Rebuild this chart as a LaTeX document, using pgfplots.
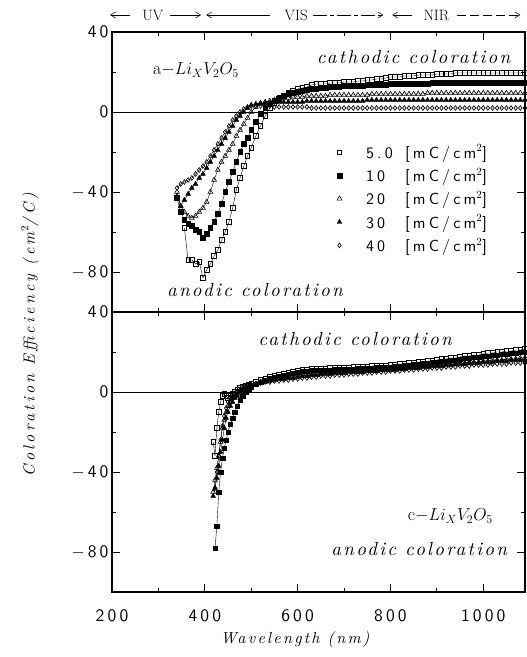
\documentclass[border=0pt]{standalone}
\usepackage{fontspec}
\usepackage{pgfplots}
\pgfplotsset{compat=1.18}
\usepackage{pgfplotstable}
\usetikzlibrary{arrows.meta}

\newfontfamily\labfont{lmroman10-italic.otf}[LetterSpace=12]
\newfontfamily\xlabfont{lmroman10-italic.otf}[LetterSpace=14]
\newfontfamily\ylabfont{lmroman10-italic.otf}[LetterSpace=20]
\newfontfamily\tickfont{lmsans10-regular.otf}[LetterSpace=18]
\newfontfamily\legfont{lmsans10-regular.otf}[LetterSpace=20]
\newcommand{\lab}[1]{{\fontsize{19}{22}\selectfont\labfont #1}}
\newcommand{\tlab}{\fontsize{17.5}{20}\selectfont\tickfont}
\newcommand{\leg}[1]{\makebox[39pt][l]{#1}[mC/cm$^{2}$]}

\pgfplotstableread{
x s5 s10 s20 s30 s40
340 nan -43 -40 -42 -38
348 nan -50 -47 -47 -36
356 -58 -54 -50 -44 -35
364 -74 -56 -52 -41 -34
372 -74 -57 -53 -38 -33
380 -76 -59 -52 -36 -31
388 -75 -60 -50 -33 -29
396 -83 -63 -48 -31 -27
404 -79 -61 -45 -28 -25
412 -76 -58 -40 -25 -22
420 -72 -55 -34 -22 -19
428 -69 -51 -29 -19 -16
436 -64 -46 -25 -16 -13
444 -60 -40 -22 -13 -10
452 -55 -35 -19 -10 -7
460 -48 -30 -16 -7 -4
468 -39 -25 -12 -4 -2
476 -33 -20 -9 -2 0
484 -27 -16 -6 0 1.5
492 -22 -13 -3 2 2.5
500 -18 -9 0 3.5 3
510 -12 -5 2.5 4 3
520 -7 -1 4 4.5 3
530 -2 2 5 4.5 3
540 2 4 5.5 4.5 3
550 4.5 5.5 6 5 2.5
560 6.5 7 6.5 5 2.5
570 8 8 7 5 2.5
580 9.5 9 7 5 2.5
590 10.5 9.5 7.5 5 2.5
600 11.5 10 7.5 5 2.5
610 12 10.5 7.5 5 2.5
620 12.5 11 8 5.5 2.5
630 13.5 11.5 8 5.5 2
640 14 11.5 8 5.5 2
650 14 12 8 5.5 2
660 14 12 8 5.5 2
670 14.5 12.5 8.5 5.5 2
680 14.5 12.5 8.5 5.5 2
690 14.5 12.5 8.5 5.5 2
700 15 13 8.5 5.5 2
710 15 13 8.5 5.5 2
720 15 13 8.5 5.5 2
730 15.5 13 8.5 5.5 2
740 15.5 13 8.5 5.5 2
750 16 13.5 8.5 6 2
760 16 13.5 9 6 2
770 16.5 13.5 9 6 2
780 16.5 13.5 9 6 2
790 17 13.5 9 6 2
800 17.5 14 9 6 2
810 17.5 14 9 6 2
820 17.5 14 9 6 2
830 18 14 9 6 2
840 18 14 9 6 2
850 18 14 9 6 2
860 18.5 14 9 6 2
870 18.5 14 9 6 2
880 18.5 14 9.5 6 2
890 18.5 14.5 9.5 6 2
900 19 14.5 9.5 6 2
910 19 14.5 9.5 6 2
920 19 14.5 9.5 6 2
930 19 14.5 9.5 6 2
940 19.5 14.5 9.5 6 2
950 19.5 14.5 9.5 6 2
960 19.5 14.5 9.5 6 2
970 19.5 14.5 9.5 6 2
980 19.5 14.5 9.5 6 2
990 19.5 14.5 9.5 6 2
1000 19.5 14.5 9.5 6 2
1010 19.5 14.5 9.5 6 2
1020 19.5 14.5 9.5 6 2
1030 19.5 14.5 9.5 6 2
1040 19.5 14.5 9.5 6 2
1050 19.5 14.5 9.5 6 2
1060 19.5 14.5 9.5 6 2
1070 19.5 14.5 9.5 6 2
1080 19.5 14.5 9.5 6 2
1090 19.5 14.5 9.5 6 2
}\toptab

\pgfplotstableread{
x s5 s10 s20 s30 s40
418 -25 nan -50 -52 nan
422 -32 -78 -44 -48 -48
426 -18 -67 -38 -43 -40
430 -10 -50 -32 -37 -32
434 -5 -40 -25 -30 -24
438 -2 -33 -18 -24 -17
442 -1 -28 -14 -18 -12
446 -2 -24 -10 -13 -8
450 -3 -20 -7 -10 -5
455 -2 -16 -5 -7 -3
460 -1 -13 -3 -5 -2
465 0 -10 -2 -3 -1
470 1 -7 -1 -2 0
476 2 -4 0 0 1
482 2.5 -2 1 1 2
488 3 0 2 2 2.5
494 3.5 1.5 2.5 2.5 3
500 4 2.5 3 3 3.5
510 5 4 4 4 4
520 6 5 5 4.5 4.5
530 6.5 6 5.5 5 5
540 7.5 7 6 5.5 5
550 8 7.5 6.5 6 5.5
560 8.5 8 7 6.5 5.5
570 9 8.5 7.5 6.5 6
580 9.5 9 8 7 6
590 10 9.5 8 7 6.5
600 10.5 10 8.5 7.5 6.5
610 11 10.5 9 8 7
620 11 10.5 9 8 7
630 11.5 11 9.5 8.5 7.5
640 11.5 11 9.5 8.5 7.5
650 11.5 11 9.5 9 8
660 11.5 11 10 9 8
670 12 11 10 9 8
680 12 11.5 10 9.5 8.5
690 12 11.5 10 9.5 8.5
700 12 11.5 10.5 9.5 8.5
710 12 11.5 10.5 10 9
720 12.5 11.5 10.5 10 9
730 12.5 12 10.5 10 9
740 12.5 12 11 10 9.5
750 12.5 12 11 10.5 9.5
760 13 12 11 10.5 9.5
770 13 12.5 11 10.5 10
780 13 12.5 11.5 11 10
790 13 12.5 11.5 11 10
800 13.5 12.5 11.5 11 10.5
810 13.5 13 12 11 10.5
820 14 13 12 11.5 10.5
830 14 13.5 12 11.5 11
840 14.5 13.5 12.5 12 11
850 14.5 14 12.5 12 11
860 15 14 12.5 12 11.5
870 15 14.5 13 12.5 11.5
880 15.5 14.5 13 12.5 11.5
890 15.5 15 13.5 13 12
900 16 15 13.5 13 12
910 16.5 15.5 13.5 13 12
920 16.5 15.5 14 13.5 12.5
930 17 16 14 13.5 12.5
940 17 16 14 14 12.5
950 17.5 16.5 14.5 14 13
960 18 17 14.5 14 13
970 18 17 15 14.5 13
980 18.5 17.5 15 14.5 13.5
990 18.5 17.5 15 14.5 13.5
1000 19 18 15.5 15 13.5
1010 19.5 18 15.5 15 13.5
1020 19.5 18.5 16 15 14
1030 20 18.5 16 15.5 14
1040 20 19 16 15.5 14
1050 20.5 19 16.5 15.5 14
1060 20.5 19.5 16.5 16 14.5
1070 21 19.5 16.5 16 14.5
1080 21 20 17 16 14.5
1090 21.5 20 17 16 14.5
}\bottab

\pgfplotsset{
  panel/.style={
    width=413pt, height=280pt, scale only axis,
    xmin=200, xmax=1090, ymin=-100, ymax=40,
    xtick={200,400,600,800,1000}, minor x tick num=1,
    ytick={-80,-40,0,40}, minor y tick num=1,
    yticklabels={$-$\,80,$-$\,40,0,40},
    xticklabels={200,400,600,800,1000},
    tick style={black, line width=0.8pt},
    major tick length=8pt, minor tick length=4pt,
    axis line style={line width=1.1pt},
    tick label style={font=\tlab},
    xticklabel style={yshift=-14pt},
    clip=false,
  },
  p5/.style={black, line width=0.4pt, mark=square, mark size=2.3pt, mark options={solid, line width=0.6pt}},
  p10/.style={black, line width=0.4pt, mark=square*, mark size=2.3pt, mark options={solid}},
  p20/.style={black, line width=0.4pt, mark=triangle, mark size=2.8pt, mark options={solid, line width=0.6pt}},
  p30/.style={black, line width=0.4pt, mark=triangle*, mark size=2.8pt, mark options={solid}},
  p40/.style={black, line width=0.4pt, mark=diamond, mark size=2.4pt, mark options={solid, line width=0.6pt}},
}

\begin{document}
\begin{tikzpicture}
\useasboundingbox (-112pt,-65pt) rectangle (415pt,592pt);
% bottom panel
\begin{axis}[panel, at={(0pt,0pt)}, anchor=south west]
\draw[line width=0.6pt] (axis cs:200,0) -- (axis cs:1090,0);
\addplot[p5] table[x=x,y=s5] {\bottab};
\addplot[p10] table[x=x,y=s10] {\bottab};
\addplot[p20] table[x=x,y=s20] {\bottab};
\addplot[p30] table[x=x,y=s30] {\bottab};
\addplot[p40] table[x=x,y=s40] {\bottab};
\node at (axis cs:724,26.5) {\lab{cathodic coloration}};
\node at (axis cs:929,-62) {\fontsize{18}{20}\selectfont$\mathrm{c}{-}Li_{X}V_{2}O_{5}$};
\node at (axis cs:862,-78.5) {\lab{anodic coloration}};
\end{axis}
% top panel
\begin{axis}[panel, at={(0pt,280pt)}, anchor=south west, xticklabels={},
  legend style={at={(axis cs:676,-14.5)}, anchor=north west, draw=none, fill=none,
    font=\fontsize{16}{18}\selectfont\legfont, row sep=5.5pt, nodes={inner sep=1.5pt}},
  legend cell align=left,
  legend image code/.code={\draw[#1] plot[only marks] coordinates {(0.12cm,0cm)};
     \path[draw=none, fill=none] (0cm,0cm) rectangle (1.0cm,0.01cm);}]
\draw[line width=0.6pt] (axis cs:200,0) -- (axis cs:1090,0);
\addplot[p5] table[x=x,y=s5] {\toptab};
\addlegendentry{\leg{5.0}}
\addplot[p10] table[x=x,y=s10] {\toptab};
\addlegendentry{\leg{10}}
\addplot[p20] table[x=x,y=s20] {\toptab};
\addlegendentry{\leg{20}}
\addplot[p30] table[x=x,y=s30] {\toptab};
\addlegendentry{\leg{30}}
\addplot[p40] table[x=x,y=s40] {\toptab};
\addlegendentry{\leg{40}}
\node at (axis cs:381,21) {\fontsize{18}{20}\selectfont$\mathrm{a}{-}Li_{X}V_{2}O_{5}$};
\node at (axis cs:850,27.5) {\lab{cathodic coloration}};
\node at (axis cs:508,-89) {\lab{anodic coloration}};
% region arrows
\begin{scope}[line width=0.5pt, font=\fontsize{15}{17}\selectfont]
\draw[-{Straight Barb[length=5pt,width=6pt]}] (axis cs:239,48.5) -- (axis cs:196,48.5);
\node at (axis cs:288,48.5) {UV};
\draw[-{Straight Barb[length=5pt,width=6pt]}] (axis cs:325,48.5) -- (axis cs:392,48.5);
\draw[-{Straight Barb[length=5pt,width=6pt]}] (axis cs:541,48.5) -- (axis cs:403,48.5);
\node at (axis cs:597,48.5) {VIS};
\draw[dash pattern=on 14pt off 3pt on 4pt off 3pt, -{Straight Barb[length=5pt,width=6pt]}] (axis cs:634,48.5) -- (axis cs:785,48.5);
\draw[-{Straight Barb[length=5pt,width=6pt]}] (axis cs:847,48.5) -- (axis cs:804,48.5);
\node at (axis cs:899,48.5) {NIR};
\draw[dash pattern=on 9pt off 4pt, -{Straight Barb[length=5pt,width=6pt]}] (axis cs:944,48.5) -- (axis cs:1080,48.5);
\end{scope}
\end{axis}
\node[rotate=90] at (-82pt,257pt) {\fontsize{16}{19}\selectfont\ylabfont Coloration Efficiency (cm$^{2}$/C)};
\node at (183pt,-47pt) {\fontsize{16}{19}\selectfont\xlabfont Wavelength (nm)};
\end{tikzpicture}
\end{document}
